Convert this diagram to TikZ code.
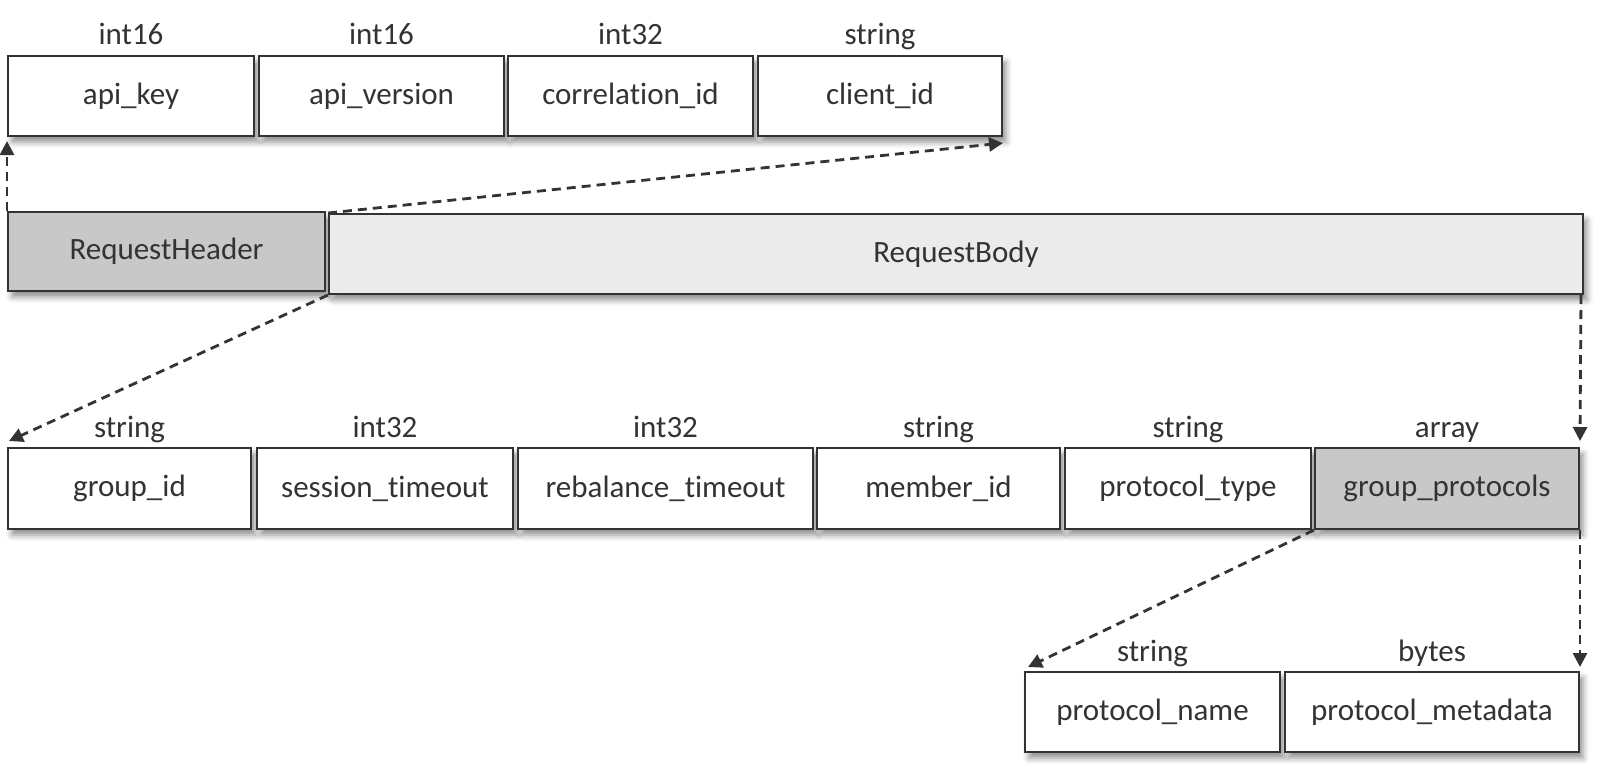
\documentclass[tikz,border=0pt]{standalone}
\usepackage{fontspec}
\setmainfont{Carlito}[Ligatures=NoCommon]
\usetikzlibrary{shadows.blur,arrows.meta}
\definecolor{ink}{HTML}{333333}
\definecolor{hdrfill}{HTML}{C8C8C8}
\definecolor{bodyfill}{HTML}{EBEBEB}
\tikzset{
  fld/.style={draw=ink, line width=1pt, fill=white, text=ink,
    font=\fontsize{15.5}{18}\selectfont, inner sep=0pt, minimum height=40pt,
    blur shadow={shadow xshift=2pt, shadow yshift=-3pt, shadow blur radius=3pt, shadow opacity=45}},
  typ/.style={text=ink, font=\fontsize{15.5}{18}\selectfont, inner sep=0pt,
    text height=11pt, text depth=3pt},
  link/.style={draw=ink, line width=1.4pt, dash pattern=on 4.5pt off 3pt,
    -{Triangle[length=7pt,width=7pt]}},
}
\begin{document}
\begin{tikzpicture}[x=0.5pt,y=-0.5pt]
\useasboundingbox (0,0) rectangle (1603,771);
% top row
\node[fld, minimum width=123pt] (apikey) at (131,96) {api\_key};
\node[fld, minimum width=122.5pt] (apiver) at (381.5,96) {api\_version};
\node[fld, minimum width=122.5pt] (corr) at (630.5,96) {correlation\_id};
\node[fld, minimum width=122pt] (client) at (880,96) {client\_id};
\node[typ] (t1) at (131,36) {int16};
\node[typ] (t2) at (381.5,36) {int16};
\node[typ] (t3) at (630.5,36) {int32};
\node[typ] (t4) at (880,36) {string};
% request
\node[fld, fill=hdrfill, minimum width=158.5pt, minimum height=39.5pt] (rh) at (166.5,251.5) {RequestHeader};
\node[fld, fill=bodyfill, minimum width=627pt] (rb) at (956,254) {RequestBody};
% body row
\node[fld, minimum width=121.5pt, minimum height=40.5pt] (gid) at (129.5,488.5) {group\_id};
\node[fld, minimum width=128pt, minimum height=40.5pt] (sto) at (385,488.5) {session\_timeout};
\node[fld, minimum width=147.5pt, minimum height=40.5pt] (rto) at (665.5,488.5) {rebalance\_timeout};
\node[fld, minimum width=121.5pt, minimum height=40.5pt] (mid) at (938.5,488.5) {member\_id};
\node[fld, minimum width=123pt, minimum height=40.5pt] (ptype) at (1188,488.5) {protocol\_type};
\node[fld, fill=hdrfill, minimum width=132pt, minimum height=40.5pt] (gp) at (1447,488.5) {group\_protocols};
\node[typ] (b1) at (129.5,429) {string};
\node[typ] (b2) at (385,429) {int32};
\node[typ] (b3) at (665.5,429) {int32};
\node[typ] (b4) at (938.5,429) {string};
\node[typ] (b5) at (1188,429) {string};
\node[typ] (b6) at (1447,429) {array};
% protocol row
\node[fld, minimum width=127.5pt] (pname) at (1152.5,712) {protocol\_name};
\node[fld, minimum width=147pt] (pmeta) at (1432,712) {protocol\_metadata};
\node[typ] (p1) at (1152.5,653) {string};
\node[typ] (p2) at (1432,653) {bytes};
% links
\draw[link] (rh.north west) -- ([yshift=-2pt]apikey.south west);
\draw[link] (rb.north west) -- ([yshift=-3pt]client.south east);
\draw[link] (rb.south west) -- ([xshift=1pt,yshift=3pt]gid.north west);
\draw[link] ([xshift=-1.5pt]rb.south east) -- ([yshift=3pt]gp.north east);
\draw[link] (gp.south west) -- ([xshift=2pt,yshift=2pt]pname.north west);
\draw[link] (gp.south east) -- ([yshift=2pt]pmeta.north east);
\end{tikzpicture}
\end{document}
